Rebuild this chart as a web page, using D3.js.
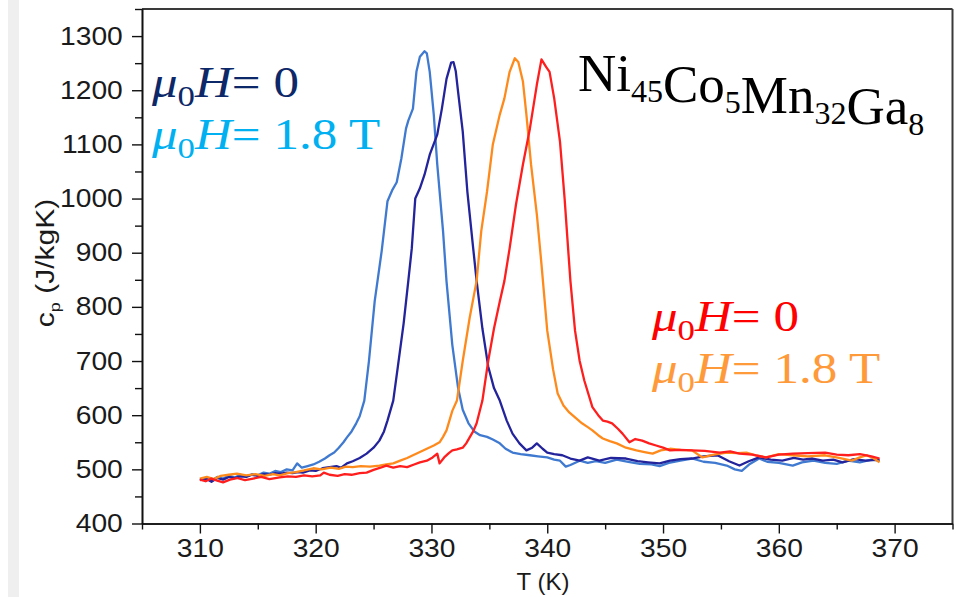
<!DOCTYPE html>
<html><head><meta charset="utf-8">
<script src="https://cdn.jsdelivr.net/npm/d3@7"></script>
<style>
html,body{margin:0;padding:0;background:#fff;}
svg{display:block;}
</style></head>
<body>
<script>
// ---- data ----
const xMajorTicks = [310, 320, 330, 340, 350, 360, 370];
const xMinorTicks = [305, 315, 325, 335, 345, 355, 365, 375];
const yMajorTicks = [400, 500, 600, 700, 800, 900, 1000, 1100, 1200, 1300];
const yMinorTicks = [450, 550, 650, 750, 850, 950, 1050, 1150, 1250, 1350];

// mu0H = 1.8 T, blue pair (light blue line)
const blue18T = [[310,481],[310.5,484],[311,479],[311.5,486],[312,483],[312.5,488],[313,485],[313.5,490],[314,487],[314.5,491],[315,489],[315.5,494],[316,492],[316.5,497],[317,495],[317.5,500],[318,498],[318.4,511],[318.8,503],[319.3,506],[319.8,509],[320.3,514],[320.8,520],[321.2,526],[321.6,531],[322,540],[322.4,550],[322.7,559],[323.1,570],[323.5,585],[323.8,598],[324.2,627],[324.6,700],[325.1,811],[325.7,903],[326.2,995],[326.6,1015],[327.0,1030],[327.4,1074],[327.8,1129],[328.0,1144],[328.4,1166],[328.7,1234],[329.0,1262],[329.4,1272],[329.6,1268],[329.85,1234],[330.2,1155],[330.5,1063],[331.0,940],[331.3,847],[331.8,730],[332.3,650],[332.7,610],[333.2,585],[333.7,570],[334.2,563],[334.8,560],[335.3,555],[335.9,548],[336.4,538],[337,531],[337.7,528],[338.5,526],[339.2,524],[340,522],[340.6,518],[341.1,516],[341.6,505],[342,508],[342.8,516],[343.5,512],[344.2,515],[345,512],[346,518],[347,514],[348,510],[349,509],[349.7,506],[350.5,512],[351.5,516],[352.5,520],[353.5,514],[354.5,512],[355.5,507],[356.2,500],[356.8,497],[357.5,510],[358.3,520],[359,514],[360,512],[361.2,507],[362,513],[363,516],[364,512],[365,510],[366,516],[367,513],[368,518],[368.7,516]];

// mu0H = 0, blue pair (dark blue line)
const blue0T = [[310,480],[310.5,483],[311,477],[311.5,484],[312,481],[312.5,486],[313,484],[313.5,487],[314,486],[314.5,490],[315,488],[315.5,491],[316,490],[316.5,493],[317,492],[317.5,494],[318,493],[318.5,495],[318.9,494],[319.5,498],[320,497],[320.6,502],[321.2,504],[321.8,506],[322.2,503],[322.7,511],[323.2,515],[323.8,521],[324.4,529],[325,540],[325.5,553],[325.9,570],[326.2,590],[326.7,627],[327.1,690],[327.6,770],[328.0,848],[328.3,908],[328.6,1000],[329.0,1019],[329.4,1044],[329.85,1081],[330.5,1118],[330.9,1166],[331.3,1221],[331.7,1251],[331.9,1252],[332.1,1235],[332.3,1197],[332.7,1124],[333.1,1013],[333.6,909],[333.9,848],[334.4,760],[334.9,690],[335.4,650],[335.9,627],[336.5,590],[337,566],[337.6,548],[338.2,535],[338.7,540],[339.1,548],[339.6,538],[340,531],[340.6,528],[341.3,526],[342,520],[342.8,516],[343.5,522],[344.5,516],[345.5,521],[346.8,520],[347.8,515],[348.7,513],[349.7,511],[350.6,516],[351.5,519],[352.5,520],[353.5,524],[354.7,526],[355.7,515],[356.6,507],[357.4,515],[358.3,522],[359.3,518],[360.3,516],[361.3,521],[362.1,518],[362.9,520],[363.8,516],[364.7,518],[365.5,513],[366.5,519],[367.5,516],[368.7,518]];

// mu0H = 1.8 T, red pair (orange line)
const red18T = [[310,483],[310.6,486],[311.2,482],[311.8,488],[312.5,490],[313.2,492],[314,489],[314.8,491],[315.6,488],[316.3,491],[316.9,489],[317.6,493],[318.3,495],[319,498],[319.8,502],[320.5,500],[321.3,503],[322,501],[322.6,505],[323.2,504],[323.9,506],[324.7,505],[325.5,507],[326.1,509],[326.7,511],[327.3,516],[327.9,521],[328.4,526],[329,532],[329.6,538],[330.2,544],[330.7,550],[331,560],[331.3,572],[331.8,608],[332.2,627],[332.7,700],[333.3,780],[333.9,848],[334.3,940],[334.8,1013],[335.3,1100],[335.9,1155],[336.3,1185],[336.75,1234],[337.2,1259],[337.5,1252],[337.9,1216],[338.2,1155],[338.6,1063],[339.1,971],[339.5,879],[340,756],[340.5,685],[340.9,640],[341.4,618],[341.9,605],[342.5,594],[343,585],[343.5,578],[343.9,572],[344.4,563],[344.8,557],[345.4,552],[346,548],[346.8,540],[347.7,535],[348.4,532],[349.1,529],[349.8,535],[350.6,538],[351.5,536],[352.5,535],[353.4,522],[354.4,527],[355.5,531],[356.4,530],[357.2,531],[358,526],[358.9,522],[360,528],[361.2,526],[362.5,524],[364,526],[365.2,521],[366.3,516],[367,522],[367.6,526],[368.2,520],[368.7,513]];

// mu0H = 0, red pair (red line)
const red0T = [[310,481],[310.5,478],[311,483],[311.5,479],[312,476],[312.6,481],[313.2,484],[313.9,480],[314.6,483],[315.3,486],[316,482],[316.9,485],[317.6,487],[318.3,486],[319,489],[319.7,487],[320.4,489],[320.7,494],[321.2,490],[321.9,488],[322.5,491],[323.1,490],[323.8,493],[324.4,494],[325,499],[325.6,503],[326.1,507],[326.7,503],[327.3,506],[327.9,504],[328.5,509],[329,513],[329.6,516],[330.1,522],[330.5,529],[330.7,511],[331.1,522],[331.5,530],[331.8,535],[332.2,537],[332.7,540],[333,548],[333.3,559],[333.6,570],[333.9,585],[334.4,627],[334.9,700],[335.4,760],[335.9,810],[336.3,848],[336.75,908],[337.3,989],[337.9,1063],[338.5,1129],[339.1,1210],[339.5,1257],[339.9,1243],[340.2,1234],[340.6,1185],[341.1,1105],[341.5,1000],[341.8,908],[342.0,848],[342.4,756],[342.8,700],[343.2,664],[343.9,615],[344.4,600],[344.8,590],[345.2,588],[345.6,585],[346.1,575],[346.5,566],[347.1,550],[347.6,556],[348.2,553],[348.8,548],[349.4,544],[350,540],[350.6,535],[351.5,536],[352.5,535],[353.6,534],[354.9,531],[355.8,533],[356.6,529],[357.7,527],[358.9,522],[360,527],[361.2,529],[362.5,530],[364,531],[365,527],[366,526],[367,528],[368,524],[368.7,520]];

const seriesList = [
  {name: "blue 1.8 T", data: blue18T, color: "#3f7ad0"},
  {name: "blue 0", data: blue0T, color: "#23239c"},
  {name: "red 1.8 T", data: red18T, color: "#ff8a1c"},
  {name: "red 0", data: red0T, color: "#ff1e1e"}
];

// ---- layout ----
const W = 969, H = 597;
const svg = d3.select("body").append("svg").attr("width", W).attr("height", H);

svg.append("rect").attr("x",0).attr("y",0).attr("width",W).attr("height",H).attr("fill","#fff");
svg.append("rect").attr("x",8).attr("y",0).attr("width",11).attr("height",H).attr("fill","#efefef");

const x = d3.scaleLinear().domain([305, 375]).range([142, 952.5]);
const y = d3.scaleLinear().domain([400, 1350]).range([523.5, 9]);

// frame top & right
svg.append("line").attr("x1", x(305)).attr("x2", x(375)).attr("y1", y(1350)).attr("y2", y(1350))
  .attr("stroke", "#3a3a3a").attr("stroke-width", 2);
svg.append("line").attr("x1", x(375)).attr("x2", x(375)).attr("y1", y(1350)).attr("y2", y(400))
  .attr("stroke", "#3a3a3a").attr("stroke-width", 2);

const tickFont = "'Liberation Sans', Arial, sans-serif";
const stretch = 1.13;

// x axis
const gx = svg.append("g").attr("transform", `translate(0,${y(400)})`);
gx.call(d3.axisBottom(x).tickValues(xMajorTicks).tickSize(10).tickSizeOuter(0).tickPadding(6).tickFormat(d3.format("d")));
gx.append("g").call(d3.axisBottom(x).tickValues(xMinorTicks).tickSize(6).tickSizeOuter(0).tickFormat(""));
gx.selectAll("path.domain").attr("stroke", "#111").attr("stroke-width", 1.6);
gx.selectAll("line").attr("stroke", "#111").attr("stroke-width", 1.4);
gx.selectAll("text").attr("font-family", tickFont).attr("font-size", 25).attr("fill", "#1a1a1a")
  .attr("transform", `scale(${stretch},1)`);

// y axis
const gy = svg.append("g").attr("transform", `translate(${x(305)},0)`);
gy.call(d3.axisLeft(y).tickValues(yMajorTicks).tickSize(10).tickSizeOuter(0).tickPadding(7).tickFormat(d3.format("d")));
gy.append("g").call(d3.axisLeft(y).tickValues(yMinorTicks).tickSize(7).tickSizeOuter(0).tickFormat(""));
gy.selectAll("path.domain").attr("stroke", "#111").attr("stroke-width", 1.6);
gy.selectAll("line").attr("stroke", "#111").attr("stroke-width", 1.4);
gy.selectAll("text").attr("font-family", tickFont).attr("font-size", 25).attr("fill", "#1a1a1a")
  .attr("transform", `scale(${stretch},1)`);

// axis titles
svg.append("text").attr("x", 543).attr("y", 590).attr("text-anchor", "middle")
  .attr("font-family", tickFont).attr("font-size", 24).attr("fill", "#1a1a1a").text("T (K)");
const yt = svg.append("text").attr("transform", "translate(54,263) rotate(-90) scale(1.2,1)").attr("text-anchor", "middle")
  .attr("font-family", tickFont).attr("font-size", 25).attr("fill", "#1a1a1a");
yt.append("tspan").text("c");
yt.append("tspan").attr("font-size", 15).attr("dy", 6).text("p");
yt.append("tspan").attr("dy", -6).text(" (J/kgK)");

// curves
const line = d3.line().x(d => x(d[0])).y(d => y(d[1]));
svg.append("g").selectAll("path").data(seriesList).join("path")
  .attr("d", d => line(d.data))
  .attr("fill", "none")
  .attr("stroke", d => d.color)
  .attr("stroke-width", 2.3)
  .attr("stroke-linejoin", "round");

// legends
const serif = "'Liberation Serif', 'Times New Roman', serif";
function muLabel(xp, yp, rest, color) {
  const t = svg.append("text").attr("transform", `translate(${xp},${yp}) scale(1.16,1)`)
    .attr("font-family", serif).attr("font-size", 44).attr("fill", color);
  t.append("tspan").attr("font-style", "italic").text("μ");
  t.append("tspan").attr("font-size", 30).attr("dy", 9).text("0");
  t.append("tspan").attr("dy", -9).attr("font-style", "italic").text("H");
  t.append("tspan").text(rest);
}
muLabel(152, 97, "= 0", "#0d2868");
muLabel(152, 149, "= 1.8 T", "#00b0f0");
muLabel(652, 331, "= 0", "#ff0000");
muLabel(652, 383, "= 1.8 T", "#ff9a3a");

// compound title
const title = svg.append("text").attr("x", 578).attr("y", 91).attr("font-family", serif)
  .attr("font-size", 53).attr("fill", "#000");
const parts = [["Ni","45"],["Co","5"],["Mn","32"],["Ga","8"]];
parts.forEach(([el, sub]) => {
  title.append("tspan").text(el);
  title.append("tspan").attr("font-size", 32).attr("dy", 11).text(sub);
  title.append("tspan").attr("dy", -11).text("");
});
</script>
</body></html>
